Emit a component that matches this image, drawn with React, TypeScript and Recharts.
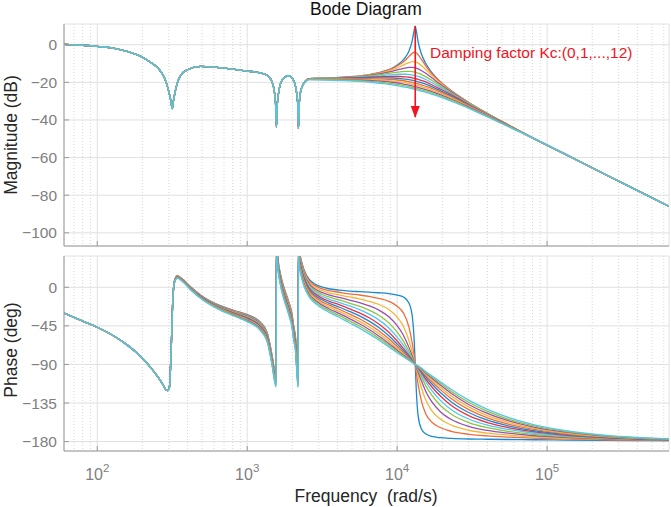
import React from "react";
import { LineChart, Line, XAxis, YAxis, CartesianGrid } from "recharts";

// ---------- axes / ticks ----------
const X_DOMAIN = [60, 650000];
const DECADES = [100, 1000, 10000, 100000];
const MINOR_X = [70, 80, 90, 200, 300, 400, 500, 600, 700, 800, 900, 2000, 3000, 4000, 5000, 6000, 7000, 8000, 9000,
  20000, 30000, 40000, 50000, 60000, 70000, 80000, 90000, 200000, 300000, 400000, 500000, 600000];
const ALL_X = [...DECADES, ...MINOR_X].sort((a, b) => a - b);
const MAG_DOMAIN = [-107, 11];
const MAG_TICKS = [-100, -80, -60, -40, -20, 0];
const PH_DOMAIN = [-191, 36.5];
const PH_TICKS = [-180, -135, -90, -45, 0];

// ---------- magnitude (dB) ----------
// common low-frequency part (all Kc curves coincide)
const F_MAG_LOW = [60, 80, 100, 130, 160, 195, 225, 255, 280, 298, 310, 316, 322, 335, 360, 400, 490, 600, 800, 1000,
  1220, 1360, 1460, 1510, 1545, 1567, 1590, 1625, 1705, 1890, 2040, 2130, 2170, 2197, 2225, 2270, 2380];
const MAG_LOW = [0.2, -0.3, -0.9, -1.9, -3.7, -6.2, -9.2, -12.6, -17.5, -24, -30, -34, -30, -23, -16.3, -13.3, -11.5, -11.9, -13, -14,
  -15, -16.3, -19.5, -24, -31, -43.7, -31, -25, -19, -16.5, -19, -25, -31, -44.6, -31, -25, -20.7];

// resonance region, one list per Kc = 0..12
const F_MAG_FAN = [2600, 3500, 4800, 6500, 8000, 9500, 10500, 11300, 12000, 12600, 13000, 13200, 13400, 13800, 14500, 15500,
  17000, 19500, 23000, 30000, 40000, 55000];
const MAG_KC0 = [-18.0, -17.7, -17.1, -15.9, -14.3, -12.0, -9.6, -6.9, -3.3, 2.0, 7.8, 9.7, 7.6, 1.5, -4.8, -9.9, -14.7, -19.8, -24.5, -30.7, -36.6, -42.6];
const MAG_KC1 = [-18.0, -17.7, -17.1, -16.0, -14.5, -12.3, -10.3, -8.3, -6.2, -4.6, -4.0, -4.1, -4.3, -5.3, -7.8, -11.2, -15.3, -20.0, -24.6, -30.7, -36.6, -42.6];
const MAG_KC2 = [-18.0, -17.7, -17.2, -16.1, -14.8, -13.0, -11.6, -10.3, -9.5, -9.0, -9.0, -9.1, -9.3, -9.8, -11.1, -13.2, -16.3, -20.5, -24.9, -30.9, -36.6, -42.6];
const MAG_KC3 = [-18.0, -17.8, -17.3, -16.3, -15.2, -13.9, -13.0, -12.4, -12.1, -12.1, -12.2, -12.3, -12.5, -12.8, -13.7, -15.2, -17.6, -21.2, -25.2, -31.0, -36.7, -42.7];
const MAG_KC4 = [-18.0, -17.8, -17.4, -16.6, -15.8, -14.9, -14.4, -14.2, -14.2, -14.3, -14.5, -14.6, -14.8, -15.1, -15.8, -17.0, -18.9, -22.0, -25.7, -31.2, -36.8, -42.7];
const MAG_KC5 = [-18.1, -17.9, -17.5, -17.0, -16.4, -15.9, -15.7, -15.7, -15.9, -16.1, -16.3, -16.5, -16.6, -16.9, -17.5, -18.5, -20.1, -22.8, -26.2, -31.5, -36.9, -42.8];
const MAG_KC6 = [-18.1, -18.0, -17.7, -17.3, -17.0, -16.8, -16.9, -17.1, -17.3, -17.6, -17.9, -18.0, -18.1, -18.4, -19.0, -19.8, -21.3, -23.7, -26.7, -31.8, -37.1, -42.8];
const MAG_KC7 = [-18.2, -18.1, -17.9, -17.7, -17.6, -17.7, -18.0, -18.3, -18.6, -18.9, -19.1, -19.3, -19.4, -19.7, -20.2, -21.0, -22.3, -24.5, -27.3, -32.1, -37.3, -42.9];
const MAG_KC8 = [-18.2, -18.2, -18.2, -18.2, -18.3, -18.6, -18.9, -19.3, -19.7, -20.0, -20.3, -20.4, -20.5, -20.8, -21.3, -22.1, -23.2, -25.2, -27.9, -32.4, -37.4, -43.0];
const MAG_KC9 = [-18.3, -18.3, -18.4, -18.6, -18.9, -19.4, -19.8, -20.2, -20.6, -21.0, -21.3, -21.4, -21.5, -21.8, -22.3, -23.0, -24.1, -26.0, -28.4, -32.8, -37.6, -43.1];
const MAG_KC10 = [-18.4, -18.5, -18.7, -19.0, -19.5, -20.1, -20.6, -21.1, -21.5, -21.9, -22.1, -22.3, -22.4, -22.7, -23.2, -23.9, -24.9, -26.7, -29.0, -33.1, -37.8, -43.2];
const MAG_KC11 = [-18.5, -18.6, -18.9, -19.5, -20.1, -20.8, -21.4, -21.9, -22.3, -22.7, -23.0, -23.1, -23.2, -23.5, -24.0, -24.6, -25.6, -27.3, -29.5, -33.5, -38.1, -43.4];
const MAG_KC12 = [-18.6, -18.8, -19.2, -19.9, -20.6, -21.5, -22.1, -22.6, -23.0, -23.4, -23.7, -23.8, -24.0, -24.2, -24.7, -25.3, -26.3, -27.9, -30.1, -33.8, -38.3, -43.5];
const MAG_FAN = [MAG_KC0, MAG_KC1, MAG_KC2, MAG_KC3, MAG_KC4, MAG_KC5, MAG_KC6, MAG_KC7, MAG_KC8, MAG_KC9, MAG_KC10, MAG_KC11, MAG_KC12];

// common high-frequency tail
const F_MAG_TAIL = [80000, 130000, 250000, 450000, 650000];
const MAG_TAIL = [-49.5, -57.9, -69.4, -79.6, -86.0];

// ---------- phase (deg) ----------
const F_PH_LOW = [60, 80, 100, 129, 158, 195, 226, 257, 275, 285, 293];
const PH_LOW = [-30, -39.5, -46.6, -56.8, -67.2, -80.8, -93.2, -106, -114, -118.9, -120.5];

const F_PH_MID = [303, 311, 319, 327, 341, 368, 419, 488, 631, 815, 1000, 1220, 1360, 1467, 1525, 1558, 1568, 1585, 1610,
  1664, 1750, 1893, 1990, 2044, 2100, 2140, 2165, 2186, 2198, 2215, 2262, 2330, 2400];
const PHM_KC0 = [-115, -72, -14, 7.5, 13.5, 10, 0.5, -9, -20, -27, -32, -40.5, -53, -80, -98, -104, 60, 45, 31, 16, 1, -17, -31, -46, -58, -80, -93, -99, 60, 45, 36, 27, 20];
const PHM_KC1 = [-115.2, -72.2, -14.2, 7.3, 13.3, 9.8, 0.3, -9.3, -20.4, -27.5, -32.6, -41.2, -53.8, -80.9, -98.9, -104.9, 59.1, 44.1, 30.1, 15.0, 0.0, -18.1, -32.2, -47.2, -59.3, -81.3, -94.3, -100.3, 58.7, 43.7, 34.6, 25.6, 18.6];
const PHM_KC2 = [-115.4, -72.4, -14.4, 7.1, 13.1, 9.5, 0.0, -9.6, -20.8, -28.0, -33.3, -42.0, -54.7, -81.9, -99.9, -106.0, 58.0, 43.0, 29.0, 13.9, -1.2, -19.4, -33.5, -48.6, -60.7, -82.8, -95.8, -101.8, 57.2, 42.2, 33.1, 24.0, 16.9];
const PHM_KC3 = [-115.6, -72.6, -14.6, 6.9, 12.8, 9.3, -0.3, -9.9, -21.2, -28.6, -33.9, -42.9, -55.6, -82.8, -101.0, -107.0, 57.0, 41.9, 27.9, 12.8, -2.4, -20.7, -34.9, -50.0, -62.1, -84.2, -97.3, -103.3, 55.7, 40.6, 31.5, 22.4, 15.2];
const PHM_KC4 = [-115.8, -72.8, -14.8, 6.7, 12.6, 9.0, -0.6, -10.3, -21.6, -29.1, -34.6, -43.7, -56.6, -83.8, -102.0, -108.1, 55.9, 40.8, 26.8, 11.6, -3.6, -22.0, -36.3, -51.4, -63.6, -85.7, -98.8, -104.8, 54.2, 39.1, 30.0, 20.8, 13.6];
const PHM_KC5 = [-116.0, -73.0, -15.0, 6.4, 12.4, 8.8, -0.9, -10.6, -22.1, -29.7, -35.3, -44.5, -57.5, -84.8, -103.0, -109.1, 54.8, 39.8, 25.7, 10.5, -4.8, -23.3, -37.6, -52.8, -65.0, -87.2, -100.3, -106.3, 52.6, 37.6, 28.4, 19.2, 11.9];
const PHM_KC6 = [-116.2, -73.2, -15.3, 6.2, 12.2, 8.6, -1.1, -10.9, -22.5, -30.2, -36.0, -45.3, -58.4, -85.8, -104.1, -110.2, 53.8, 38.7, 24.6, 9.4, -6.0, -24.6, -39.0, -54.2, -66.5, -88.6, -101.7, -107.8, 51.1, 36.1, 26.9, 17.6, 10.3];
const PHM_KC7 = [-116.4, -73.4, -15.5, 6.0, 11.9, 8.3, -1.4, -11.2, -22.9, -30.8, -36.6, -46.2, -59.3, -86.8, -105.1, -111.2, 52.7, 37.6, 23.5, 8.2, -7.2, -25.9, -40.3, -55.6, -67.9, -90.1, -103.2, -109.3, 49.6, 34.5, 25.3, 16.0, 8.6];
const PHM_KC8 = [-116.6, -73.6, -15.7, 5.8, 11.7, 8.1, -1.7, -11.6, -23.3, -31.3, -37.3, -47.0, -60.2, -87.8, -106.1, -112.3, 51.6, 36.6, 22.4, 7.1, -8.4, -27.2, -41.7, -57.0, -69.3, -91.6, -104.7, -110.8, 48.1, 33.0, 23.7, 14.4, 7.0];
const PHM_KC9 = [-116.8, -73.8, -15.9, 5.6, 11.5, 7.8, -2.0, -11.9, -23.7, -31.9, -38.0, -47.8, -61.2, -88.8, -107.2, -113.4, 50.6, 35.5, 21.3, 6.0, -9.6, -28.5, -43.1, -58.4, -70.8, -93.0, -106.2, -112.3, 46.6, 31.5, 22.2, 12.7, 5.3];
const PHM_KC10 = [-117.0, -74.1, -16.1, 5.3, 11.3, 7.6, -2.3, -12.2, -24.2, -32.4, -38.6, -48.6, -62.1, -89.8, -108.2, -114.4, 49.5, 34.4, 20.3, 4.8, -10.8, -29.8, -44.4, -59.8, -72.2, -94.5, -107.7, -113.8, 45.1, 30.0, 20.6, 11.1, 3.6];
const PHM_KC11 = [-117.2, -74.3, -16.3, 5.1, 11.0, 7.3, -2.5, -12.6, -24.6, -32.9, -39.3, -49.5, -63.0, -90.8, -109.2, -115.5, 48.5, 33.3, 19.2, 3.7, -12.0, -31.0, -45.8, -61.2, -73.7, -96.0, -109.2, -115.3, 43.6, 28.4, 19.1, 9.5, 2.0];
const PHM_KC12 = [-117.4, -74.5, -16.5, 4.9, 10.8, 7.1, -2.8, -12.9, -25.0, -33.5, -40.0, -50.3, -63.9, -91.8, -110.2, -116.5, 47.4, 32.3, 18.1, 2.6, -13.2, -32.3, -47.1, -62.6, -75.1, -97.4, -110.7, -116.8, 42.1, 26.9, 17.5, 7.9, 0.3];
const PH_MID = [PHM_KC0, PHM_KC1, PHM_KC2, PHM_KC3, PHM_KC4, PHM_KC5, PHM_KC6, PHM_KC7, PHM_KC8, PHM_KC9, PHM_KC10, PHM_KC11, PHM_KC12];

const F_PH_FAN = [2600, 2800, 3100, 3500, 4100, 4800, 5600, 6500, 7500, 8800, 10000, 11000, 12000, 12600, 13000, 13200, 13400,
  13800, 14500, 15500, 17000, 19500, 23000, 30000, 40000, 55000, 80000, 130000, 250000, 650000];
const PHF_KC0 = [8.8, 4.2, 0.7, -1.7, -3.2, -4.4, -5.1, -5.7, -6.4, -7.4, -9.1, -11.3, -18.6, -33.4, -63.2, -90, -118, -150, -165, -171, -174, -175.5, -176.3, -177, -177.3, -177.6, -177.9, -178.2, -178.6, -179];
const PHF_KC1 = [7.2, 2.5, -1.3, -3.9, -5.8, -7.7, -9.0, -10.7, -12.8, -16.4, -22.0, -29.9, -46.7, -65.0, -81.2, -90, -98.6, -113.6, -132.6, -147.5, -157.2, -163.9, -168.1, -171.5, -173.4, -174.7, -175.9, -176.9, -177.9, -178.8];
const PHF_KC2 = [5.4, 0.6, -3.4, -6.4, -8.8, -11.3, -13.5, -16.3, -19.8, -26.0, -34.8, -45.5, -62.4, -75.6, -85.2, -90, -94.7, -103.3, -116.9, -131.3, -143.8, -154.0, -160.9, -166.8, -170.2, -172.4, -174.4, -176.0, -177.5, -178.6];
const PHF_KC3 = [3.6, -1.4, -5.6, -8.9, -11.8, -14.9, -17.9, -21.6, -26.3, -34.4, -44.8, -55.9, -70.4, -80.1, -86.7, -90, -93.2, -99.1, -109.1, -121.2, -133.5, -145.4, -154.3, -162.2, -167.0, -170.2, -172.9, -175.1, -177.0, -178.4];
const PHF_KC4 = [1.8, -3.3, -7.8, -11.3, -14.7, -18.4, -22.0, -26.6, -32.3, -41.5, -52.4, -62.8, -75.0, -82.5, -87.5, -90, -92.4, -96.7, -104.5, -114.7, -125.9, -138.2, -148.2, -157.8, -163.8, -168.0, -171.5, -174.2, -176.5, -178.2];
const PHF_KC5 = [0.1, -5.2, -9.9, -13.7, -17.6, -21.7, -26.0, -31.3, -37.7, -47.5, -58.2, -67.6, -77.9, -84.0, -88.0, -90, -91.9, -95.3, -101.6, -110.2, -120.3, -132.2, -142.8, -153.7, -160.8, -165.8, -170.0, -173.3, -176.0, -178.1];
const PHF_KC6 = [-1.7, -7.1, -12.0, -16.1, -20.3, -25.0, -29.8, -35.6, -42.5, -52.5, -62.7, -71.2, -80.0, -85.1, -88.4, -90, -91.6, -94.3, -99.5, -107.0, -116.0, -127.2, -138.0, -149.8, -157.9, -163.7, -168.5, -172.4, -175.6, -177.9];
const PHF_KC7 = [-3.4, -9.0, -14.0, -18.4, -23.0, -28.1, -33.4, -39.5, -46.7, -56.6, -66.3, -73.8, -81.5, -85.8, -88.6, -90, -91.3, -93.6, -98.1, -104.6, -112.6, -123.1, -133.8, -146.1, -155.0, -161.6, -167.1, -171.5, -175.1, -177.7];
const PHF_KC8 = [-5.1, -10.8, -16.1, -20.6, -25.6, -31.1, -36.7, -43.1, -50.4, -60.1, -69.1, -75.9, -82.7, -86.4, -88.8, -90, -91.2, -93.0, -96.9, -102.7, -109.9, -119.7, -130.1, -142.7, -152.3, -159.6, -165.6, -170.6, -174.6, -177.5];
const PHF_KC9 = [-6.8, -12.6, -18.0, -22.8, -28.1, -33.9, -39.7, -46.3, -53.6, -63.0, -71.5, -77.6, -83.6, -86.9, -89.0, -90, -91.0, -92.6, -96.0, -101.2, -107.7, -116.8, -126.8, -139.6, -149.7, -157.5, -164.2, -169.7, -174.2, -177.3];
const PHF_KC10 = [-8.5, -14.3, -19.9, -25.0, -30.5, -36.5, -42.6, -49.3, -56.5, -65.5, -73.4, -78.9, -84.3, -87.2, -89.1, -90, -90.9, -92.2, -95.3, -100.0, -105.9, -114.4, -124.0, -136.7, -147.2, -155.6, -162.8, -168.8, -173.7, -177.2];
const PHF_KC11 = [-10.1, -16.1, -21.8, -27.0, -32.8, -39.0, -45.2, -51.9, -59.0, -67.6, -75.0, -80.1, -84.9, -87.5, -89.2, -90, -90.8, -91.9, -94.7, -99.0, -104.4, -112.3, -121.5, -134.1, -144.8, -153.7, -161.4, -167.9, -173.3, -177.0];
const PHF_KC12 = [-11.7, -17.8, -23.6, -29.0, -35.0, -41.4, -47.6, -54.3, -61.2, -69.5, -76.4, -81.0, -85.4, -87.8, -89.3, -90, -90.7, -91.7, -94.2, -98.2, -103.2, -110.5, -119.3, -131.7, -142.5, -151.8, -160.0, -167.0, -172.8, -176.8];
const PH_FAN = [PHF_KC0, PHF_KC1, PHF_KC2, PHF_KC3, PHF_KC4, PHF_KC5, PHF_KC6, PHF_KC7, PHF_KC8, PHF_KC9, PHF_KC10, PHF_KC11, PHF_KC12];

// annotation arrow (frequency, dB)
const ARROW_F = [13200, 13200];
const ARROW_DB = [10, -38.4];

// ---------- styling ----------
const COLORS = ["#1a8ad0", "#f26b3a", "#f4b63a", "#9b4fb0", "#8dc540", "#52c6f0", "#e3334c",
  "#1a8ad0", "#f26b3a", "#f4b63a", "#9b4fb0", "#8dc540", "#52c6f0"];
const FONT = "'Liberation Sans', Arial, Helvetica, sans-serif";
const FRAME = "#9a9a9a";
const TICK_TXT = "#808080";
const GRID = "#e0e0e0";
const GRID_MINOR = "#d6d6d6";
const RED = "#f2141e";

const rows = (fs: number[], vs: number[]) => fs.map((f, i) => ({ f, v: vs[i] }));

const MAG_SERIES = MAG_FAN.map((fan) => [
  ...rows(F_MAG_LOW, MAG_LOW),
  ...rows(F_MAG_FAN, fan),
  ...rows(F_MAG_TAIL, MAG_TAIL),
]);
const PH_SERIES = PH_FAN.map((fan, k) => [
  ...rows(F_PH_LOW, PH_LOW),
  ...rows(F_PH_MID, PH_MID[k]),
  ...rows(F_PH_FAN, fan),
]);
const ARROW = rows(ARROW_F, ARROW_DB);

const fmtY = (v: number) => (v < 0 ? "\u2212" + Math.abs(v) : String(v));

function XTick(props: any) {
  const { x, y, payload } = props;
  const e = Math.round(Math.log10(payload.value));
  return (
    <text x={x} y={y + 34} textAnchor="middle" fill={TICK_TXT} fontFamily={FONT} fontSize={16}>
      <tspan>10</tspan>
      <tspan dy={-8} fontSize={11.5}>{e}</tspan>
    </text>
  );
}

function EmptyTick() {
  return <g />;
}

function ArrowHead(props: any) {
  const { cx, cy, index } = props;
  if (index !== 1 || cx == null || cy == null) return <g key={"ah" + index} />;
  return <path key="ah" d={`M${cx},${cy + 1} L${cx - 4.5},${cy - 11} L${cx + 4.5},${cy - 11} Z`} fill={RED} />;
}

function frameAxes(yDomain: number[], yTicks: number[], mainXHeight: number, showXLabels: boolean) {
  return [
    <CartesianGrid key="gmin" xAxisId="x" yAxisId="y" horizontal={false} verticalValues={MINOR_X}
      stroke={GRID_MINOR} strokeDasharray="1 2" />,
    <CartesianGrid key="gmaj" xAxisId="x" yAxisId="y" stroke={GRID} />,
    <XAxis key="x" xAxisId="x" dataKey="f" type="number" scale="log" domain={X_DOMAIN} allowDataOverflow
      ticks={DECADES} interval={0} height={mainXHeight} tickSize={-5} tickMargin={0}
      tickLine={{ stroke: FRAME }} axisLine={{ stroke: FRAME }}
      tick={showXLabels ? <XTick /> : <EmptyTick />} />,
    <XAxis key="xb" xAxisId="xb" type="number" scale="log" domain={X_DOMAIN} allowDataOverflow
      ticks={MINOR_X} interval={0} orientation="bottom" mirror height={0} tickSize={3}
      tickLine={{ stroke: FRAME }} axisLine={false} tick={<EmptyTick />} />,
    <XAxis key="xt" xAxisId="xt" type="number" scale="log" domain={X_DOMAIN} allowDataOverflow
      ticks={ALL_X} interval={0} orientation="top" mirror height={0} tickSize={3}
      tickLine={{ stroke: FRAME }} axisLine={{ stroke: FRAME }} tick={<EmptyTick />} />,
    <YAxis key="y" yAxisId="y" type="number" domain={yDomain} allowDataOverflow ticks={yTicks} interval={0}
      width={64} tickSize={-5} tickMargin={12} tickLine={{ stroke: FRAME }} axisLine={{ stroke: FRAME }}
      tick={{ fill: TICK_TXT, fontSize: 15.5, fontFamily: FONT }} tickFormatter={fmtY} />,
    <YAxis key="yr" yAxisId="yr" orientation="right" mirror type="number" domain={yDomain} allowDataOverflow
      ticks={yTicks} interval={0} width={0} tickSize={5} tickLine={{ stroke: FRAME }}
      axisLine={{ stroke: FRAME }} tick={<EmptyTick />} />,
  ];
}

export default function App() {
  return (
    <div style={{ position: "absolute", left: 0, top: 0, width: 671, height: 507, background: "#fff", overflow: "hidden" }}>
      <div style={{ position: "absolute", left: 0, top: 0 }}>
        <LineChart width={671} height={250} margin={{ top: 24, right: 2, bottom: 1, left: 0 }}>
          {frameAxes(MAG_DOMAIN, MAG_TICKS, 3, false)}
          {MAG_SERIES.map((d, k) => (
            <Line key={"m" + k} xAxisId="x" yAxisId="y" data={d} dataKey="v" type="monotoneX"
              stroke={COLORS[k]} strokeWidth={1.3} dot={false} activeDot={false} isAnimationActive={false} />
          ))}
          <Line xAxisId="x" yAxisId="y" data={ARROW} dataKey="v" type="linear" stroke={RED} strokeWidth={1.6}
            dot={<ArrowHead />} activeDot={false} isAnimationActive={false} />
        </LineChart>
      </div>
      <div style={{ position: "absolute", left: 0, top: 250 }}>
        <LineChart width={671} height={257} margin={{ top: 6, right: 2, bottom: 0, left: 0 }}>
          {frameAxes(PH_DOMAIN, PH_TICKS, 56, true)}
          {PH_SERIES.map((d, k) => (
            <Line key={"p" + k} xAxisId="x" yAxisId="y" data={d} dataKey="v" type="monotoneX"
              stroke={COLORS[k]} strokeWidth={1.3} dot={false} activeDot={false} isAnimationActive={false} />
          ))}
        </LineChart>
      </div>
      <svg width={671} height={507} style={{ position: "absolute", left: 0, top: 0, pointerEvents: "none" }}>
        <text x={366} y={15} textAnchor="middle" fontFamily={FONT} fontSize={17.5} fill="#111">Bode Diagram</text>
        <text x={430} y={58} fontFamily={FONT} fontSize={15.5} fill={RED}>Damping factor Kc:(0,1,...,12)</text>
        <text x={366} y={502} textAnchor="middle" fontFamily={FONT} fontSize={17.5} fill="#262626"
          style={{ whiteSpace: "pre" }}>{"Frequency  (rad/s)"}</text>
        <text transform="translate(17,135) rotate(-90)" textAnchor="middle" fontFamily={FONT} fontSize={17.5} fill="#262626">Magnitude (dB)</text>
        <text transform="translate(17,350) rotate(-90)" textAnchor="middle" fontFamily={FONT} fontSize={17.5} fill="#262626">Phase (deg)</text>
      </svg>
    </div>
  );
}
